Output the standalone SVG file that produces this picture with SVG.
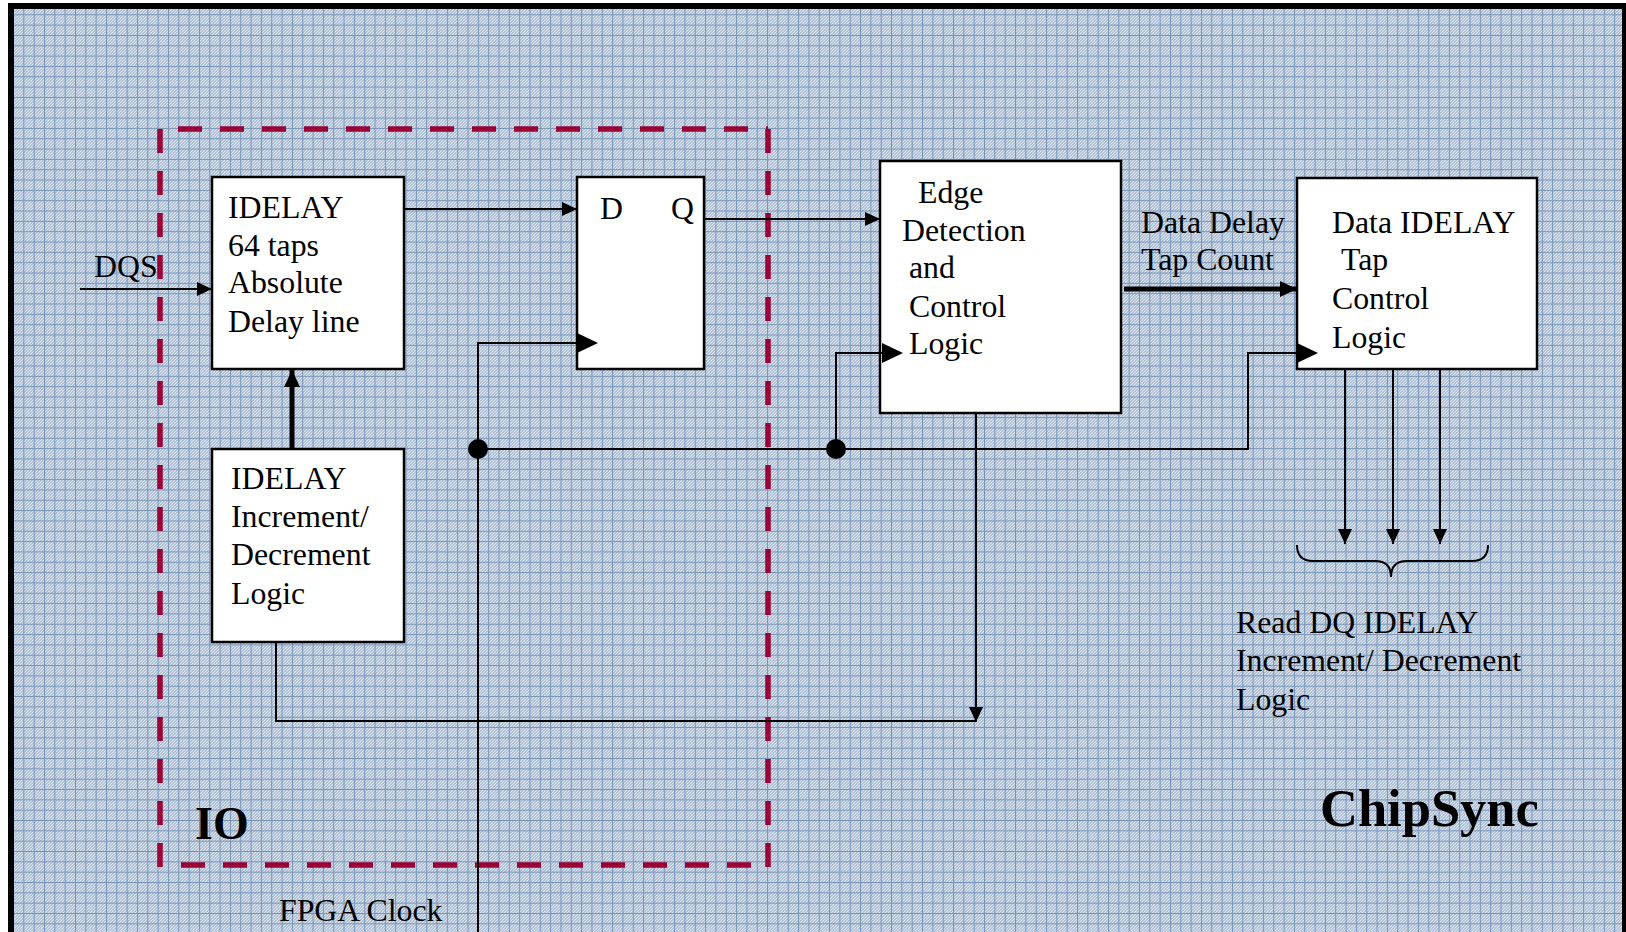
<svg xmlns="http://www.w3.org/2000/svg" width="1626" height="932" viewBox="0 0 1626 932">
<defs>
<pattern id="dith" patternUnits="userSpaceOnUse" width="3" height="3">
<rect width="3" height="3" fill="#b2c3da"/>
<rect x="0" y="0" width="1" height="1" fill="#dbe4ef"/>
<rect x="2" y="1" width="1" height="1" fill="#dbe4ef"/>
<rect x="1" y="2" width="1" height="1" fill="#dbe4ef"/>
</pattern>
<pattern id="grid" patternUnits="userSpaceOnUse" x="13" y="14.3" width="10.33" height="10.33">
<path d="M0.5,0 V10.33 M0,0.5 H10.33" stroke="#7893b9" stroke-width="1" fill="none"/>
</pattern>
<marker id="arr" markerUnits="userSpaceOnUse" markerWidth="16" markerHeight="16" refX="15" refY="7" orient="auto">
<path d="M0,0 L15,7 L0,14 Z" fill="#000"/>
</marker>
<marker id="arrT" markerUnits="userSpaceOnUse" markerWidth="18" markerHeight="18" refX="17" refY="8" orient="auto">
<path d="M0,0 L17,8 L0,16 Z" fill="#000"/>
</marker>
<marker id="clk" markerUnits="userSpaceOnUse" markerWidth="22" markerHeight="22" refX="0" refY="10" orient="auto">
<path d="M0,0 L21,10 L0,20 Z" fill="#000"/>
</marker>
<style>
.box{fill:#fff;stroke:#000;stroke-width:2.5}
.t{font-family:"Liberation Serif","Times New Roman",serif;font-size:31.8px;fill:#000}
.b{font-family:"Liberation Serif","Times New Roman",serif;font-weight:bold;fill:#000}
.ln{fill:none;stroke:#000;stroke-width:2}
.thick{fill:none;stroke:#000;stroke-width:5}
.io{fill:none;stroke:#9a0036;stroke-width:5.5;stroke-dasharray:24 18}
</style>
</defs>
<rect width="1626" height="932" fill="#fff"/>
<rect x="11" y="6" width="1614" height="1000" fill="url(#dith)"/>
<rect x="11" y="6" width="1614" height="1000" fill="url(#grid)" stroke="#000" stroke-width="6"/>

<g id="io-boundary">
<path class="io" d="M160,129 V867"/>
<path class="io" d="M768,129 V867"/>
<path class="io" d="M178,129 H768"/>
<path class="io" d="M181,865 H768"/>
<text class="b" x="195" y="839" font-size="46">IO</text>
</g>

<text class="t" x="94" y="277">DQS</text>
<text class="t" x="279" y="921">FPGA Clock</text>
<text class="t" x="1141" y="233">Data Delay</text>
<text class="t" x="1141" y="270">Tap Count</text>
<text class="b" x="1320" y="826" font-size="52.5">ChipSync</text>

<g id="idelay">
<rect class="box" x="212" y="177" width="192" height="192"/>
<text class="t" x="228" y="218">IDELAY</text>
<text class="t" x="228" y="256">64 taps</text>
<text class="t" x="228" y="293">Absolute</text>
<text class="t" x="228" y="332">Delay line</text>
</g>

<g id="incdec">
<rect class="box" x="212" y="449" width="192" height="193"/>
<text class="t" x="231" y="489">IDELAY</text>
<text class="t" x="231" y="527">Increment/</text>
<text class="t" x="231" y="565">Decrement</text>
<text class="t" x="231" y="604">Logic</text>
</g>

<g id="dff">
<rect class="box" x="577" y="177" width="127" height="192"/>
<text class="t" x="600" y="219">D</text>
<text class="t" x="671" y="219">Q</text>
</g>

<g id="edge">
<rect class="box" x="880" y="161" width="241" height="252"/>
<text class="t" x="918" y="203">Edge</text>
<text class="t" x="902" y="241">Detection</text>
<text class="t" x="909" y="278">and</text>
<text class="t" x="909" y="317">Control</text>
<text class="t" x="909" y="354">Logic</text>
</g>

<g id="dataidelay">
<rect class="box" x="1297" y="178" width="240" height="191"/>
<text class="t" x="1332" y="233">Data IDELAY</text>
<text class="t" x="1341" y="270">Tap</text>
<text class="t" x="1332" y="309">Control</text>
<text class="t" x="1332" y="348">Logic</text>
</g>

<g id="readdq">
<path class="ln" d="M1297,545 Q1297,561 1313,561 L1375,561 Q1391,561 1391,577 Q1391,561 1407,561 L1472,561 Q1488,561 1488,545"/>
<text class="t" x="1236" y="633">Read DQ IDELAY</text>
<text class="t" x="1236" y="671">Increment/ Decrement</text>
<text class="t" x="1236" y="710">Logic</text>
</g>

<g id="connectors">
<path class="ln" d="M80,289 H212" marker-end="url(#arr)"/>
<path class="ln" d="M404,209 H577" marker-end="url(#arr)"/>
<path class="ln" d="M704,219 H880" marker-end="url(#arr)"/>
<path class="thick" d="M292,449 V370" marker-end="url(#arrT)"/>
<path class="thick" d="M1124,289 H1297" marker-end="url(#arrT)"/>
<path class="ln" d="M478,932 V343 H577" marker-end="url(#clk)"/>
<path class="ln" d="M478,449 H1248 V353 H1297" marker-end="url(#clk)"/>
<path class="ln" d="M836,449 V353 H882" marker-end="url(#clk)"/>
<path class="ln" d="M276,642 V721 H976"/>
<path class="ln" d="M976,413 V722" marker-end="url(#arr)"/>
<path class="ln" d="M1345,369 V544" marker-end="url(#arr)"/>
<path class="ln" d="M1393,369 V544" marker-end="url(#arr)"/>
<path class="ln" d="M1440,369 V544" marker-end="url(#arr)"/>
<circle cx="478" cy="449" r="10" fill="#000"/>
<circle cx="836" cy="449" r="10" fill="#000"/>
</g>
</svg>
